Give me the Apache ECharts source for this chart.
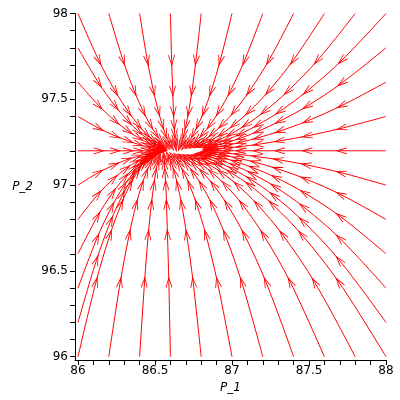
<!DOCTYPE html>
<html><head><meta charset="utf-8">
<script src="https://cdn.jsdelivr.net/npm/echarts@6/dist/echarts.min.js"></script>
<style>html,body{margin:0;padding:0;background:#fff}#c{width:400px;height:400px}</style>
</head><body><div id="c"></div>
<script>
// Axis ticks and labels
const xTickValues = [86,86.1,86.2,86.3,86.4,86.5,86.6,86.7,86.8,86.9,87,87.1,87.2,87.3,87.4,87.5,87.6,87.7,87.8,87.9,88];
const xLabelValues = [86,86.5,87,87.5,88];
const xTickLabels = ['86','86.5','87','87.5','88'];
const yTickValues = [96,96.1,96.2,96.3,96.4,96.5,96.6,96.7,96.8,96.9,97,97.1,97.2,97.3,97.4,97.5,97.6,97.7,97.8,97.9,98];
const yLabelValues = [96,96.5,97,97.5,98];
const yTickLabels = ['96','96.5','97','97.5','98'];

// Trajectories starting on the top edge (P_2 = 98)
const topTrajectories = [
 {x:[86,86.134,86.241,86.325,86.391,86.443,86.484,86.517,86.543,86.556], y:[98,97.728,97.549,97.43,97.352,97.3,97.266,97.244,97.229,97.223]},
 {x:[86.2,86.292,86.365,86.423,86.469,86.505,86.533,86.556,86.573,86.582], y:[98,97.728,97.549,97.43,97.352,97.3,97.266,97.244,97.229,97.223]},
 {x:[86.4,86.45,86.49,86.522,86.547,86.566,86.582,86.594,86.604,86.608], y:[98,97.728,97.549,97.43,97.352,97.3,97.266,97.244,97.229,97.223]},
 {x:[86.6,86.608,86.615,86.62,86.624,86.628,86.63,86.632,86.634,86.635], y:[98,97.728,97.549,97.43,97.352,97.3,97.266,97.244,97.229,97.223]},
 {x:[86.8,86.766,86.74,86.719,86.702,86.689,86.679,86.671,86.664,86.661], y:[98,97.728,97.549,97.43,97.352,97.3,97.266,97.244,97.229,97.223]},
 {x:[87,86.924,86.865,86.818,86.78,86.751,86.728,86.709,86.695,86.687], y:[98,97.728,97.549,97.43,97.352,97.3,97.266,97.244,97.229,97.223]},
 {x:[87.2,87.082,86.99,86.916,86.858,86.812,86.776,86.748,86.725,86.714], y:[98,97.728,97.549,97.43,97.352,97.3,97.266,97.244,97.229,97.223]},
 {x:[87.4,87.24,87.114,87.015,86.936,86.874,86.825,86.786,86.755,86.74], y:[98,97.728,97.549,97.43,97.352,97.3,97.266,97.244,97.229,97.223]},
 {x:[87.6,87.398,87.239,87.113,87.014,86.935,86.873,86.824,86.786,86.766], y:[98,97.728,97.549,97.43,97.352,97.3,97.266,97.244,97.229,97.223]},
 {x:[87.8,87.556,87.364,87.212,87.092,86.997,86.922,86.863,86.816,86.793], y:[98,97.728,97.549,97.43,97.352,97.3,97.266,97.244,97.229,97.223]},
 {x:[88,87.714,87.489,87.311,87.17,87.059,86.971,86.901,86.846,86.819], y:[98,97.728,97.549,97.43,97.352,97.3,97.266,97.244,97.229,97.223]}
];

// Trajectories starting on the bottom edge (P_2 = 96)
const bottomTrajectories = [
 {x:[86,86.116,86.207,86.279,86.336,86.381,86.416,86.444,86.467,86.478], y:[96,96.432,96.709,96.886,96.999,97.071,97.118,97.147,97.166,97.174]},
 {x:[86.2,86.274,86.332,86.377,86.414,86.442,86.465,86.483,86.497,86.504], y:[96,96.432,96.709,96.886,96.999,97.071,97.118,97.147,97.166,97.174]},
 {x:[86.4,86.432,86.456,86.476,86.492,86.504,86.514,86.521,86.527,86.53], y:[96,96.432,96.709,96.886,96.999,97.071,97.118,97.147,97.166,97.174]},
 {x:[86.6,86.59,86.581,86.575,86.57,86.565,86.562,86.56,86.558,86.557], y:[96,96.432,96.709,96.886,96.999,97.071,97.118,97.147,97.166,97.174]},
 {x:[86.8,86.748,86.706,86.673,86.647,86.627,86.611,86.598,86.588,86.583], y:[96,96.432,96.709,96.886,96.999,97.071,97.118,97.147,97.166,97.174]},
 {x:[87,86.906,86.831,86.772,86.725,86.689,86.659,86.636,86.618,86.609], y:[96,96.432,96.709,96.886,96.999,97.071,97.118,97.147,97.166,97.174]},
 {x:[87.2,87.064,86.956,86.871,86.803,86.75,86.708,86.675,86.649,86.636], y:[96,96.432,96.709,96.886,96.999,97.071,97.118,97.147,97.166,97.174]},
 {x:[87.4,87.222,87.081,86.969,86.881,86.812,86.757,86.713,86.679,86.662], y:[96,96.432,96.709,96.886,96.999,97.071,97.118,97.147,97.166,97.174]},
 {x:[87.6,87.38,87.205,87.068,86.959,86.873,86.805,86.752,86.709,86.688], y:[96,96.432,96.709,96.886,96.999,97.071,97.118,97.147,97.166,97.174]},
 {x:[87.8,87.538,87.33,87.166,87.037,86.935,86.854,86.79,86.74,86.715], y:[96,96.432,96.709,96.886,96.999,97.071,97.118,97.147,97.166,97.174]},
 {x:[88,87.696,87.455,87.265,87.115,86.996,86.903,86.828,86.77,86.741], y:[96,96.432,96.709,96.886,96.999,97.071,97.118,97.147,97.166,97.174]}
];

// Trajectories starting on the left edge (P_1 = 86)
const leftTrajectories = [
 {x:[86,86.134,86.241,86.325,86.391,86.443,86.484,86.517,86.543,86.556], y:[97.8,97.596,97.461,97.373,97.314,97.275,97.25,97.233,97.222,97.217]},
 {x:[86,86.134,86.241,86.325,86.391,86.443,86.484,86.517,86.543,86.556], y:[97.6,97.464,97.374,97.315,97.276,97.25,97.233,97.222,97.214,97.211]},
 {x:[86,86.134,86.241,86.325,86.391,86.443,86.484,86.517,86.543,86.556], y:[97.4,97.332,97.287,97.258,97.238,97.225,97.217,97.211,97.207,97.206]},
 {x:[86,86.134,86.241,86.325,86.391,86.443,86.484,86.517,86.543,86.556], y:[97.2,97.2,97.2,97.2,97.2,97.2,97.2,97.2,97.2,97.2]},
 {x:[86,86.131,86.235,86.317,86.382,86.433,86.473,86.505,86.53,86.543], y:[97,97.072,97.118,97.148,97.166,97.179,97.186,97.191,97.194,97.196]},
 {x:[86,86.128,86.229,86.309,86.372,86.422,86.462,86.493,86.518,86.53], y:[96.8,96.944,97.036,97.095,97.133,97.157,97.173,97.182,97.189,97.191]},
 {x:[86,86.125,86.224,86.302,86.363,86.412,86.45,86.481,86.505,86.517], y:[96.6,96.816,96.954,97.043,97.099,97.136,97.159,97.174,97.183,97.187]},
 {x:[86,86.122,86.218,86.294,86.354,86.402,86.439,86.469,86.492,86.504], y:[96.4,96.688,96.872,96.99,97.066,97.114,97.145,97.165,97.178,97.183]},
 {x:[86,86.119,86.212,86.287,86.345,86.391,86.428,86.457,86.479,86.491], y:[96.2,96.56,96.79,96.938,97.032,97.093,97.131,97.156,97.172,97.179]}
];

// Trajectories starting on the right edge (P_1 = 88)
const rightTrajectories = [
 {x:[88,87.714,87.489,87.311,87.17,87.059,86.971,86.901,86.846,86.819], y:[97.8,97.596,97.461,97.373,97.314,97.275,97.25,97.233,97.222,97.217]},
 {x:[88,87.714,87.489,87.311,87.17,87.059,86.971,86.901,86.846,86.819], y:[97.6,97.464,97.374,97.315,97.276,97.25,97.233,97.222,97.214,97.211]},
 {x:[88,87.714,87.489,87.311,87.17,87.059,86.971,86.901,86.846,86.819], y:[97.4,97.332,97.287,97.258,97.238,97.225,97.217,97.211,97.207,97.206]},
 {x:[88,87.714,87.489,87.311,87.17,87.059,86.971,86.901,86.846,86.819], y:[97.2,97.2,97.2,97.2,97.2,97.2,97.2,97.2,97.2,97.2]},
 {x:[88,87.711,87.483,87.303,87.161,87.048,86.959,86.889,86.834,86.806], y:[97,97.072,97.118,97.148,97.166,97.179,97.186,97.191,97.194,97.196]},
 {x:[88,87.708,87.478,87.295,87.151,87.038,86.948,86.877,86.821,86.793], y:[96.8,96.944,97.036,97.095,97.133,97.157,97.173,97.182,97.189,97.191]},
 {x:[88,87.705,87.472,87.288,87.142,87.027,86.937,86.865,86.808,86.78], y:[96.6,96.816,96.954,97.043,97.099,97.136,97.159,97.174,97.183,97.187]},
 {x:[88,87.702,87.466,87.28,87.133,87.017,86.925,86.853,86.795,86.767], y:[96.4,96.688,96.872,96.99,97.066,97.114,97.145,97.165,97.178,97.183]},
 {x:[88,87.699,87.461,87.273,87.124,87.007,86.914,86.841,86.783,86.754], y:[96.2,96.56,96.79,96.938,97.032,97.093,97.131,97.156,97.172,97.179]}
];

const allTrajectories = [].concat(topTrajectories, bottomTrajectories, leftTrajectories, rightTrajectories);

function labelFor(v, values, labels) {
  for (let i = 0; i < values.length; i++) if (Math.abs(values[i] - v) < 1e-6) return labels[i];
  return '';
}

const RED = '#ff0000';
const FONT = 'DejaVu Sans';

const lineSeries = allTrajectories.map(t => ({
  type: 'line',
  data: t.x.map((v, i) => [v, t.y[i]]),
  showSymbol: false,
  symbol: 'none',
  smooth: 0.35,
  lineStyle: { color: RED, width: 1 },
  silent: true,
  animation: false,
  z: 2
}));

const chart = echarts.init(document.getElementById('c'), null, { renderer: 'canvas' });

const baseOption = {
  animation: false,
  backgroundColor: '#ffffff',
  grid: { left: 75, right: 14, top: 13.5, bottom: 40, containLabel: false },
  xAxis: {
    type: 'value', min: 85.9805, max: 88,
    axisLine: { show: true, onZero: false, lineStyle: { color: '#000', width: 1 } },
    axisTick: { show: true, customValues: xTickValues, length: 5, lineStyle: { color: '#000', width: 1 } },
    axisLabel: { customValues: xLabelValues, formatter: v => labelFor(v, xLabelValues, xTickLabels),
                 color: '#000', fontFamily: FONT, fontSize: 12, margin: 5 },
    splitLine: { show: false },
    name: 'P_1', nameLocation: 'middle', nameGap: 21,
    nameTextStyle: { color: '#000', fontFamily: FONT, fontSize: 12, fontStyle: 'italic', verticalAlign: 'top' }
  },
  yAxis: {
    type: 'value', min: 95.981, max: 98,
    axisLine: { show: true, onZero: false, lineStyle: { color: '#000', width: 1 } },
    axisTick: { show: true, customValues: yTickValues, length: 5, lineStyle: { color: '#000', width: 1 } },
    axisLabel: { customValues: yLabelValues, formatter: v => labelFor(v, yLabelValues, yTickLabels),
                 color: '#000', fontFamily: FONT, fontSize: 12, margin: 7 },
    splitLine: { show: false },
    name: 'P_2', nameLocation: 'middle', nameGap: 42, nameRotate: 0,
    nameTextStyle: { color: '#000', fontFamily: FONT, fontSize: 12, fontStyle: 'italic', align: 'right', verticalAlign: 'middle' }
  },
  series: lineSeries
};
chart.setOption(baseOption);

// Arrow heads at the interior points of every trajectory, oriented along the flow
const arrowData = [];
allTrajectories.forEach(t => {
  const pts = t.x.map((v, i) => chart.convertToPixel({ xAxisIndex: 0, yAxisIndex: 0 }, [v, t.y[i]]));
  for (let k = 1; k < t.x.length - 1; k++) {
    const dx = pts[k + 1][0] - pts[k - 1][0];
    const dy = pts[k + 1][1] - pts[k - 1][1];
    const ang = Math.atan2(-dx, -dy) * 180 / Math.PI;
    arrowData.push({ value: [t.x[k], t.y[k]], symbolRotate: ang });
  }
});

chart.setOption({
  series: lineSeries.concat([{
    type: 'scatter',
    data: arrowData,
    symbol: 'path://M0,11 L3,0 L6,11',
    symbolSize: [6, 10],
    itemStyle: { color: 'rgba(0,0,0,0)', borderColor: RED, borderWidth: 1, opacity: 1 },
    silent: true,
    z: 3
  }])
});
</script>
</body></html>
